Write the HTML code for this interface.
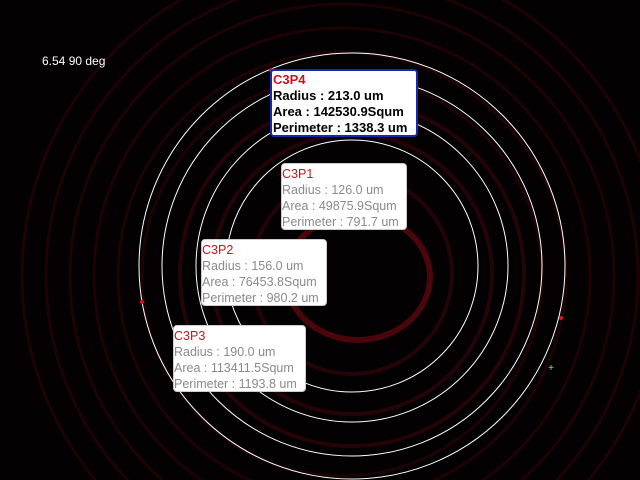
<!DOCTYPE html>
<html><head><meta charset="utf-8"><style>
html,body{margin:0;padding:0;background:#000;overflow:hidden;width:640px;height:480px;}
#wrap{position:relative;width:640px;height:480px;overflow:hidden;background:#030102;font-family:"Liberation Sans",sans-serif;}
svg{position:absolute;left:0;top:0;}
.box{position:absolute;background:#fff;border:1px solid #ccc;border-radius:4px;box-sizing:border-box;font-size:12.5px;line-height:16px;color:#8a8a8a;padding:2px 0 0 0;white-space:nowrap;overflow:hidden;}
.box .t{color:#c8141e;}
.sel{border:2px solid #1428b4;color:#000;font-weight:bold;padding:1px 0 0 0;font-size:13px;}
#angle{position:absolute;left:42px;top:54px;color:#fff;font-size:12px;font-family:"Liberation Sans",sans-serif;}
</style></head><body>
<div id="wrap">
<svg id="svg" width="640" height="480"></svg>
<div id="angle">6.54 90 deg</div>
<div class="box sel" style="left:270px;top:69px;width:148px;height:68px;padding-left:1px"><div class="t">C3P4</div>Radius : 213.0 um<br>Area : 142530.9Squm<br>Perimeter : 1338.3 um</div>
<div class="box" style="left:281px;top:163px;width:126px;height:67px"><div class="t">C3P1</div>Radius : 126.0 um<br>Area : 49875.9Squm<br>Perimeter : 791.7 um</div>
<div class="box" style="left:201px;top:239px;width:126px;height:67px"><div class="t">C3P2</div>Radius : 156.0 um<br>Area : 76453.8Squm<br>Perimeter : 980.2 um</div>
<div class="box" style="left:173px;top:325px;width:133px;height:67px"><div class="t">C3P3</div>Radius : 190.0 um<br>Area : 113411.5Squm<br>Perimeter : 1193.8 um</div>
</div>
<script>
const circleNames=["C3P1","C3P2","C3P3","C3P4"];
const radiiUm=[126,156,190,213];
const faintRings=[200,224,248,272,296,320];
const cx=352, cy=266, scale=1.0;
const ns="http://www.w3.org/2000/svg";
const svg=document.getElementById('svg');
function mk(tag,attrs){const e=document.createElementNS(ns,tag);for(const k in attrs)e.setAttribute(k,attrs[k]);svg.appendChild(e);return e;}
faintRings.forEach((r,i)=>{
  const e=mk('circle',{cx:cx-10,cy:cy+10,r:r,fill:'none',stroke:'#1e0305','stroke-width':3});
  
  
});
[100,140,172].forEach(r=>{
  const e=mk('circle',{cx:cx,cy:cy+8,r:r,fill:'none',stroke:'#240406','stroke-width':4});
  
  
});
const rr=mk('ellipse',{cx:358,cy:277,rx:72,ry:63,fill:'none',stroke:'#4a060b','stroke-width':6});


radiiUm.forEach((r,i)=>{
  const e=mk('circle',{cx:cx,cy:cy,r:r*scale,fill:'none',stroke:'#fff','stroke-width':1});
  
  
});
[[271,70],[142,302],[561,318]].forEach(p=>{
  const e=mk('circle',{cx:p[0],cy:p[1],r:2,fill:'#e01020'});
  
  
});
const s=mk('text',{x:551,y:371,fill:'#9fdc9f','font-size':10,'text-anchor':'middle'});
s.textContent='+';


</script>
</body></html>
